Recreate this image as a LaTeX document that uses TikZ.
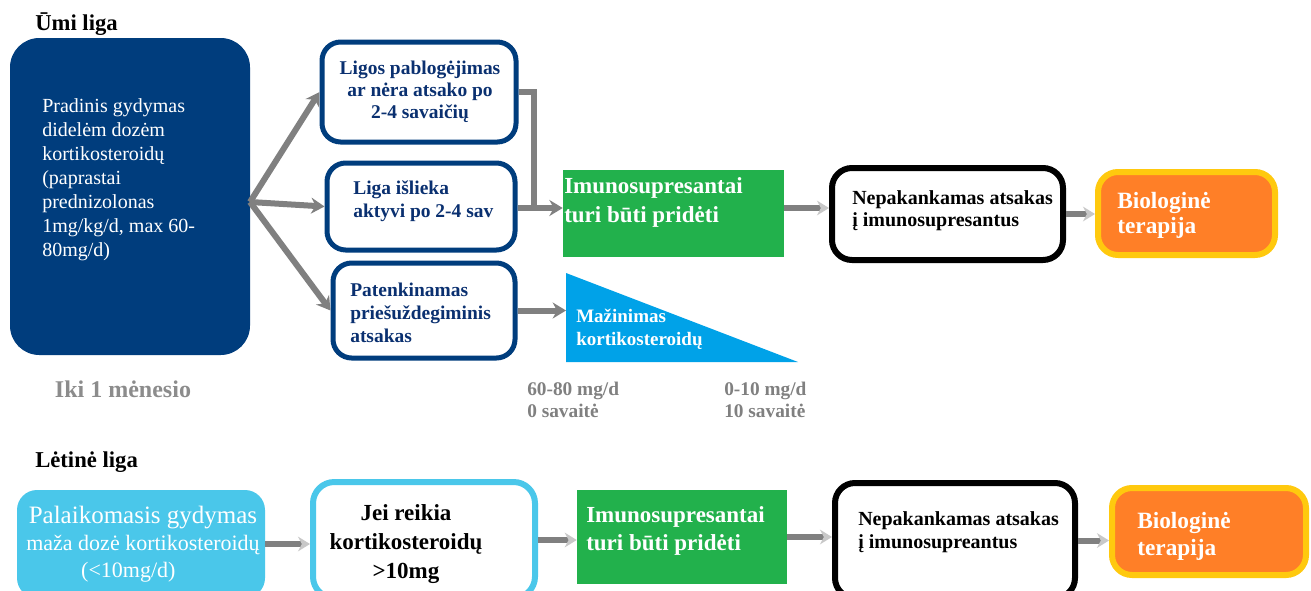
\documentclass[tikz,border=0pt]{standalone}
\usepackage{fontspec}
\setmainfont{Liberation Serif}
\usetikzlibrary{arrows.meta,fit}
\definecolor{dblue}{RGB}{0,61,125}
\definecolor{tblue}{RGB}{10,48,112}
\definecolor{igreen}{RGB}{34,177,76}
\definecolor{triblue}{RGB}{0,162,232}
\definecolor{lblue}{RGB}{74,199,234}
\definecolor{iorange}{RGB}{255,127,39}
\definecolor{iyellow}{RGB}{255,201,14}
\definecolor{agray}{RGB}{128,128,128}
\definecolor{hgray}{RGB}{200,200,200}
\definecolor{lgray}{RGB}{140,140,140}
\begin{document}
\begin{tikzpicture}[x=0.75pt,y=-0.75pt,
  bluebox/.style={draw=dblue, line width=3.75pt, rounded corners=14pt, inner sep=0pt},
  blackbox/.style={draw=black, line width=4.5pt, rounded corners=15pt, inner sep=0pt},
  orangebox/.style={draw=iyellow, fill=iorange, line width=4.5pt, rounded corners=15pt, inner sep=0pt},
  lbbox/.style={draw=lblue, fill=white, line width=4.5pt, rounded corners=16pt, inner sep=0pt},
  greenbox/.style={fill=igreen, inner sep=0pt},
  txt/.style={inner sep=0pt, align=left, anchor=north west},
  ctxt/.style={inner sep=0pt, align=center, anchor=north},
  conn/.style={draw=agray, line width=4.5pt, -{Stealth[length=10pt,width=12pt]}},
  fconn/.style={draw=agray, line width=4.5pt, -{Stealth[length=9pt,width=11pt,color=hgray]}},
  plain/.style={draw=agray, line width=4.5pt}
]
\useasboundingbox (0,0) rectangle (1311,590);
\fill[white] (0,0) rectangle (1311,590);
\clip (0,0) rectangle (1311,590);

% titles
\node[inner sep=0pt, anchor=base west, font=\bfseries\fontsize{17pt}{18pt}\selectfont] (tumi) at (35,30) {Ūmi liga};
\node[inner sep=0pt, anchor=base west, font=\bfseries\fontsize{17pt}{18pt}\selectfont] (tlet) at (35,467) {Lėtinė liga};

% top row boxes
\node[fit={(10,38) (250,355)}, fill=dblue, rounded corners=22pt, inner sep=0pt] (big) {};
\node[fit={(322,42) (516,142)}, bluebox] (box1) {};
\node[fit={(327,163) (515,250)}, bluebox] (box2) {};
\node[fit={(333,263) (515,358)}, bluebox] (box3) {};
\node[fit={(563,170) (784,257)}, greenbox] (green) {};
\fill[triblue] (566,273) -- (566,362) -- (798,362) -- cycle;
\coordinate (triL) at (566,310);
\node[fit={(832,168) (1063,260)}, blackbox] (nep) {};
\node[fit={(1098,172) (1275,255)}, orangebox] (orange) {};

% bottom row boxes
\node[fit={(17,490) (265,598)}, fill=lblue, rounded corners=15pt, inner sep=0pt] (light) {};
\node[fit={(313,482) (535,598)}, lbbox] (jei) {};
\node[fit={(577,490) (787,584)}, greenbox] (gtwo) {};
\node[fit={(835,483) (1075,598)}, blackbox] (neptwo) {};
\node[fit={(1112,488) (1306,575)}, orangebox] (orangetwo) {};

% connectors top
\coordinate (fork) at (250,202);
\coordinate (j) at (534,208);
\draw[conn] (fork) -- (box1.west);
\draw[conn] (fork) -- (box2.west);
\draw[conn] (fork) -- (box3.west);
\draw[plain] (box1.east) -| (j);
\draw[conn] (box2.east |- j) -- (green.west |- j);
\draw[conn] (box3.east) -- (box3.east -| triL);
\draw[fconn] (green.east |- j) -- (nep.west |- j);
\draw[fconn] (nep.east) -- (nep.east -| orange.west);

% connectors bottom
\draw[fconn] (light.east) -- (light.east -| jei.west);
\draw[fconn] (jei.east) -- (jei.east -| gtwo.west);
\draw[fconn] (gtwo.east) -- (gtwo.east -| neptwo.west);
\draw[fconn] (neptwo.east) -- (neptwo.east -| orangetwo.west);

% texts top
\node[txt, text=white, font=\fontsize{15pt}{18pt}\selectfont] (bigtxt) at (42,98)
  {Pradinis gydymas\\didelėm dozėm\\kortikosteroidų\\(paprastai\\prednizolonas\\1mg/kg/d, max 60-\\80mg/d)};
\node[inner sep=0pt, anchor=base, text=lgray, font=\bfseries\fontsize{18pt}{20pt}\selectfont] (iki) at (123,397) {Iki 1 mėnesio};
\node[ctxt, text=tblue, font=\bfseries\fontsize{14.6pt}{16.5pt}\selectfont] (t1) at (420,61)
  {Ligos pablogėjimas\\ar nėra atsako po\\2-4 savaičių};
\node[txt, text=tblue, font=\bfseries\fontsize{14.6pt}{17.25pt}\selectfont] (t2) at (353,181)
  {Liga išlieka\\aktyvi po 2-4 sav};
\node[txt, text=tblue, font=\bfseries\fontsize{14.6pt}{17.25pt}\selectfont] (t3) at (350,283)
  {Patenkinamas\\priešuždegiminis\\atsakas};
\node[txt, text=white, font=\bfseries\fontsize{17.25pt}{21.75pt}\selectfont] (gtxt) at (564,177)
  {Imunosupresantai\\turi būti pridėti};
\node[txt, text=white, font=\bfseries\fontsize{14.25pt}{17.25pt}\selectfont] (tritxt) at (576,309)
  {Mažinimas\\kortikosteroidų};
\node[txt, text=agray, font=\bfseries\fontsize{14.5pt}{16.5pt}\selectfont] (lab1) at (527,382)
  {60-80 mg/d\\0 savaitė};
\node[txt, text=agray, font=\bfseries\fontsize{14.5pt}{16.5pt}\selectfont] (lab2) at (724,382)
  {0-10 mg/d\\10 savaitė};
\node[txt, text=black, font=\bfseries\fontsize{15pt}{16.5pt}\selectfont] (neptxt) at (852,190)
  {Nepakankamas atsakas\\į imunosupresantus};
\node[txt, text=white, font=\bfseries\fontsize{17.5pt}{18.75pt}\selectfont] (ortxt) at (1117,192)
  {Biologinė\\terapija};

% texts bottom
\node[ctxt, text=white, font=\fontsize{16.5pt}{20.25pt}\selectfont] (ltxt) at (143,506)
  {{\fontsize{18.75pt}{20.25pt}\selectfont Palaikomasis gydymas}\\maža dozė kortikosteroidų\\(<10mg/d)\hspace*{22pt}};
\node[ctxt, text=black, font=\bfseries\fontsize{17.25pt}{21.75pt}\selectfont] (jeitxt) at (406,504)
  {Jei reikia\\kortikosteroidų\\>10mg};
\node[txt, text=white, font=\bfseries\fontsize{17.25pt}{21pt}\selectfont] (g2txt) at (586,506)
  {Imunosupresantai\\turi būti pridėti};
\node[txt, text=black, font=\bfseries\fontsize{15pt}{17.25pt}\selectfont] (nep2txt) at (858,511)
  {Nepakankamas atsakas\\į imunosupreantus};
\node[txt, text=white, font=\bfseries\fontsize{17.5pt}{20.25pt}\selectfont] (or2txt) at (1137,512)
  {Biologinė\\terapija};
\end{tikzpicture}
\end{document}
